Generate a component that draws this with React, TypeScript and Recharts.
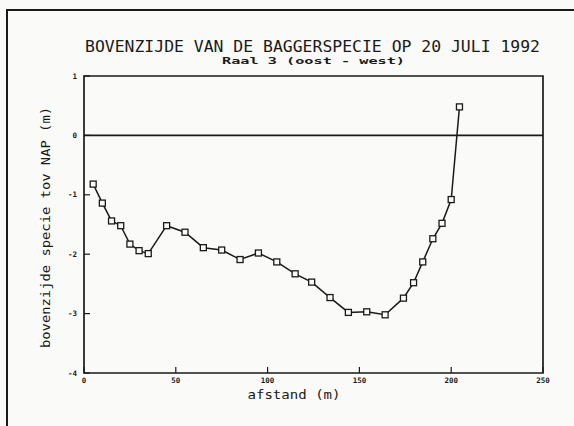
import {
  ComposedChart,
  Line,
  XAxis,
  YAxis,
  ReferenceLine,
  ReferenceArea,
} from 'recharts'

const afstand = [5, 10, 15, 20, 25, 30, 35, 45, 55, 65, 75, 85, 95, 105, 115, 124, 134, 144, 154, 164, 174, 179.5, 184.5, 190, 195, 200, 204.5]
const bovenzijde = [-0.82, -1.14, -1.44, -1.52, -1.83, -1.94, -1.99, -1.52, -1.63, -1.89, -1.93, -2.09, -1.98, -2.13, -2.33, -2.47, -2.73, -2.98, -2.97, -3.02, -2.74, -2.48, -2.13, -1.74, -1.48, -1.08, 0.48]
const xTicks = [0, 50, 100, 150, 200, 250]
const yTicks = [1, 0, -1, -2, -3, -4]

const title = 'BOVENZIJDE VAN DE BAGGERSPECIE OP 20 JULI 1992'
const subtitle = 'Raal 3 (oost - west)'
const xLabel = 'afstand (m)'
const yLabel = 'bovenzijde specie tov NAP (m)'

const INK = '#1a1a1a'
const FONT = '"DejaVu Sans Mono", monospace'

const data = afstand.map((x, i) => ({ x, y: bovenzijde[i] }))

function SquareDot(props: any) {
  const { cx, cy } = props
  if (cx == null || cy == null) return null
  return <rect x={cx - 3} y={cy - 3} width={6} height={6} fill="#fafaf8" stroke={INK} strokeWidth={1.3} />
}

export default function App() {
  return (
    <div style={{ position: 'absolute', left: 0, top: 0, width: 574, height: 426, background: '#fafaf8', overflow: 'hidden', fontFamily: FONT }}>
      <div style={{ position: 'absolute', left: 6, top: 9, width: 600, height: 440, borderLeft: `2px solid ${INK}`, borderTop: `2px solid ${INK}` }} />
      <svg width={574} height={80} style={{ position: 'absolute', left: 0, top: 0 }}>
        <text x={85} y={52} fontSize={15.5} fontFamily={FONT} fill={INK} textLength={455} lengthAdjust="spacingAndGlyphs">
          {title}
        </text>
        <text x={222} y={64} fontSize={9.5} fontWeight="bold" fontFamily={FONT} fill={INK} textLength={183} lengthAdjust="spacingAndGlyphs">
          {subtitle}
        </text>
      </svg>
      <div style={{ position: 'absolute', left: 0, top: 0 }}>
        <ComposedChart width={574} height={426} data={data} margin={{ top: 76, right: 31, bottom: 23, left: 20 }}>
          <ReferenceArea x1={0} x2={250} y1={-4} y2={1} fill="none" stroke={INK} strokeWidth={1.7} ifOverflow="visible" />
          <XAxis
            type="number"
            dataKey="x"
            domain={[0, 250]}
            ticks={xTicks}
            height={30}
            axisLine={false}
            tickSize={-6}
            tickMargin={11}
            tickLine={{ stroke: INK, strokeWidth: 1.2 }}
            tick={{ fontSize: 7.5, fontWeight: 'bold', fill: INK, fontFamily: FONT }}
            label={{
              content: (p: any) => (
                <text
                  x={p.viewBox.x + p.viewBox.width / 2 - 66}
                  y={p.viewBox.y + 26}
                  fontSize={13}
                  fontFamily={FONT}
                  fill={INK}
                  textLength={93}
                  lengthAdjust="spacingAndGlyphs"
                >
                  {xLabel}
                </text>
              ),
            }}
          />
          <YAxis
            type="number"
            domain={[-4, 1]}
            ticks={yTicks}
            width={64}
            axisLine={false}
            tickSize={-6}
            tickMargin={13}
            tickLine={{ stroke: INK, strokeWidth: 1.2 }}
            tick={{ fontSize: 7.5, fontWeight: 'bold', fill: INK, fontFamily: FONT }}
            label={{
              content: (p: any) => {
                const cx = p.viewBox.x + 30
                const cy = p.viewBox.y + p.viewBox.height / 2 + 3
                return (
                  <text
                    x={cx}
                    y={cy}
                    transform={`rotate(-90 ${cx} ${cy})`}
                    textAnchor="middle"
                    fontSize={12}
                    fontFamily={FONT}
                    fill={INK}
                    textLength={241}
                    lengthAdjust="spacingAndGlyphs"
                  >
                    {yLabel}
                  </text>
                )
              },
            }}
          />
          <ReferenceLine y={0} stroke={INK} strokeWidth={1.6} />
          <Line
            dataKey="y"
            stroke={INK}
            strokeWidth={1.5}
            dot={<SquareDot />}
            activeDot={false}
            isAnimationActive={false}
          />
        </ComposedChart>
      </div>
    </div>
  )
}
